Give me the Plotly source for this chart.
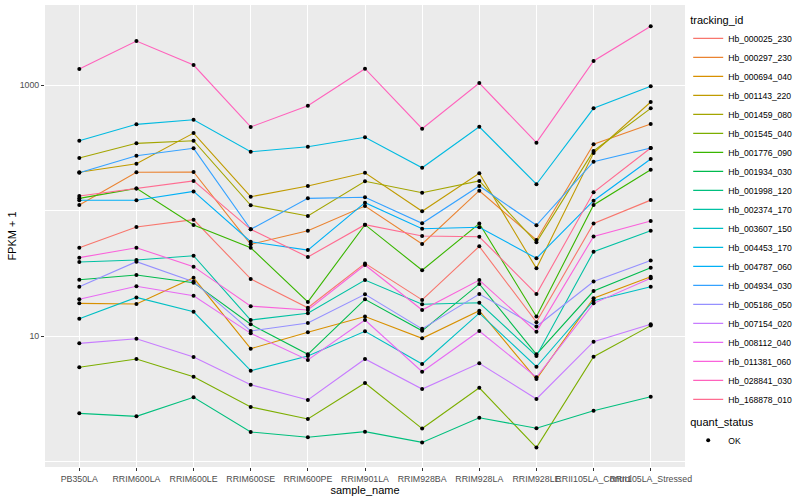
import plotly.graph_objects as go

samples = ["PB350LA", "RRIM600LA", "RRIM600LE", "RRIM600SE", "RRIM600PE", "RRIM901LA",
           "RRIM928BA", "RRIM928LA", "RRIM928LE", "RRII105LA_Control", "RRII105LA_Stressed"]

tracking_ids = ["Hb_000025_230", "Hb_000297_230", "Hb_000694_040", "Hb_001143_220", "Hb_001459_080",
                "Hb_001545_040", "Hb_001776_090", "Hb_001934_030", "Hb_001998_120", "Hb_002374_170",
                "Hb_003607_150", "Hb_004453_170", "Hb_004787_060", "Hb_004934_030", "Hb_005186_050",
                "Hb_007154_020", "Hb_008112_040", "Hb_011381_060", "Hb_028841_030", "Hb_168878_010"]

colors = ["#F8766D", "#EA8331", "#D89000", "#C09B00", "#A3A500", "#7CAE00", "#39B600", "#00BB4E",
          "#00BF7D", "#00C1A3", "#00BFC4", "#00BAE0", "#00B0F6", "#35A2FF", "#9590FF", "#C77CFF",
          "#E76BF3", "#FA62DB", "#FF62BC", "#FF6C91"]

# FPKM + 1 values per tracking id, in sample order
hb_000025_230 = [50.5, 73.9, 84.5, 28.5, 16.8, 37.9, 19.4, 51.8, 12.9, 78.8, 121]
hb_000297_230 = [110.6, 201.6, 202.7, 53.8, 69.0, 108.6, 54.1, 143.8, 58.2, 337, 489]
hb_000694_040 = [18.2, 18.0, 29.1, 7.92, 10.7, 14.3, 9.59, 15.9, 4.54, 20.0, 29.7]
hb_001143_220 = [201.6, 236, 414, 128.8, 156.7, 200, 98.5, 198, 34.6, 287, 732]
hb_001459_080 = [262, 343, 360, 110, 90.4, 171, 138.6, 172, 55.8, 298, 652]
hb_001545_040 = [5.63, 6.56, 4.74, 2.72, 2.18, 4.22, 1.83, 3.87, 1.29, 6.84, 12.1]
hb_001776_090 = [125, 150, 76.6, 50.5, 18.7, 77.1, 33.4, 78.8, 14.3, 110.6, 211]
hb_001934_030 = [28.1, 30.6, 26.6, 12.4, 7.15, 19.6, 11.0, 26.0, 7.15, 22.8, 35.0]
hb_001998_120 = [2.42, 2.29, 3.25, 1.72, 1.56, 1.73, 1.42, 2.23, 1.84, 2.54, 3.28]
hb_002374_170 = [38.9, 40.3, 43.6, 13.4, 15.2, 27.9, 17.9, 18.4, 6.93, 47.0, 69.0]
hb_003607_150 = [13.7, 20.3, 15.6, 5.29, 6.93, 10.9, 5.98, 15.2, 5.69, 19.1, 24.7]
hb_004453_170 = [360, 486, 529, 294, 322, 383, 219, 465, 162, 652, 976]
hb_004787_060 = [120.6, 120.6, 142, 56.4, 48.4, 115.4, 71.6, 73.5, 41.6, 119.7, 257]
hb_004934_030 = [200, 273, 313, 70.8, 125, 127.4, 79.1, 156.7, 76.2, 245, 315]
hb_005186_050 = [24.7, 39.1, 27.1, 10.96, 12.7, 21.5, 11.4, 21.6, 11.9, 27.2, 40.0]
hb_007154_020 = [8.74, 9.52, 6.80, 4.09, 3.09, 6.56, 3.78, 6.06, 3.15, 9.01, 12.4]
hb_008112_040 = [19.6, 24.9, 20.9, 10.5, 6.44, 13.4, 5.19, 10.96, 4.69, 18.2, 28.8]
hb_011381_060 = [42.1, 50.5, 35.7, 17.3, 16.1, 36.8, 16.1, 27.9, 10.8, 62.1, 82.5]
hb_028841_030 = [1341, 2242, 1443, 463, 684, 1349, 449, 1037, 347, 1553, 2936]
hb_168878_010 = [130.5, 150, 172, 70.8, 42.6, 77.1, 62.6, 61.8, 21.6, 139.6, 315]

series_values = [hb_000025_230, hb_000297_230, hb_000694_040, hb_001143_220, hb_001459_080,
                 hb_001545_040, hb_001776_090, hb_001934_030, hb_001998_120, hb_002374_170,
                 hb_003607_150, hb_004453_170, hb_004787_060, hb_004934_030, hb_005186_050,
                 hb_007154_020, hb_008112_040, hb_011381_060, hb_028841_030, hb_168878_010]

y_tick_values = [10, 1000]
y_tick_labels = ["10", "1000"]
y_minor_values = [1, 100]

FONT = "Liberation Sans, Arial, sans-serif"

fig = go.Figure()

for tid, col, vals in zip(tracking_ids, colors, series_values):
    fig.add_trace(go.Scatter(
        x=samples, y=vals, mode="lines", name=tid,
        line=dict(color=col, width=1.1), legend="legend",
        hoverinfo="skip",
    ))

all_x = [s for vals in series_values for s in samples]
all_y = [v for vals in series_values for v in vals]
fig.add_trace(go.Scatter(
    x=all_x, y=all_y, mode="markers", name="OK",
    marker=dict(color="black", size=4, symbol="circle"),
    legend="legend2",
))

fig.update_layout(
    width=800, height=500,
    margin=dict(l=45, r=115, t=5, b=33, autoexpand=False),
    paper_bgcolor="white", plot_bgcolor="#EBEBEB",
    font=dict(family=FONT, size=11, color="black"),
    showlegend=True,
    legend=dict(
        title=dict(text="tracking_id", font=dict(size=11, color="black")),
        x=1.005, xanchor="left", y=0.99, yanchor="top",
        font=dict(size=8.6, color="black"), itemwidth=30,
        bgcolor="rgba(0,0,0,0)", tracegroupgap=0,
    ),
    legend2=dict(
        title=dict(text="quant_status", font=dict(size=11, color="black")),
        x=1.005, xanchor="left", y=0.12, yanchor="top",
        font=dict(size=8.6, color="black"), itemwidth=30,
        bgcolor="rgba(0,0,0,0)",
    ),
)

fig.update_xaxes(
    type="category", categoryorder="array", categoryarray=samples,
    range=[-0.6, len(samples) - 0.4], automargin=False,
    showgrid=True, gridcolor="white", gridwidth=1.1,
    ticks="outside", ticklen=3, tickcolor="#333333", tickwidth=1,
    tickangle=0, tickfont=dict(size=8.8, color="#4D4D4D"),
    title=dict(text="sample_name", font=dict(size=11, color="black"), standoff=0),
    zeroline=False, showline=False,
)

fig.update_yaxes(
    type="log", range=[-0.0438, 3.6375], automargin=False,
    tickmode="array", tickvals=y_tick_values, ticktext=y_tick_labels,
    showgrid=True, gridcolor="white", gridwidth=1.1,
    minor=dict(tickvals=y_minor_values, showgrid=True, gridcolor="white", gridwidth=0.55, ticks=""),
    ticks="outside", ticklen=3, tickcolor="#333333", tickwidth=1,
    tickfont=dict(size=8.8, color="#4D4D4D"),
    title=dict(text="FPKM + 1", font=dict(size=11, color="black"), standoff=0),
    zeroline=False, showline=False,
)

fig.write_html("out.html", config={"displayModeBar": False},
               post_script="document.body.style.margin='0';")
